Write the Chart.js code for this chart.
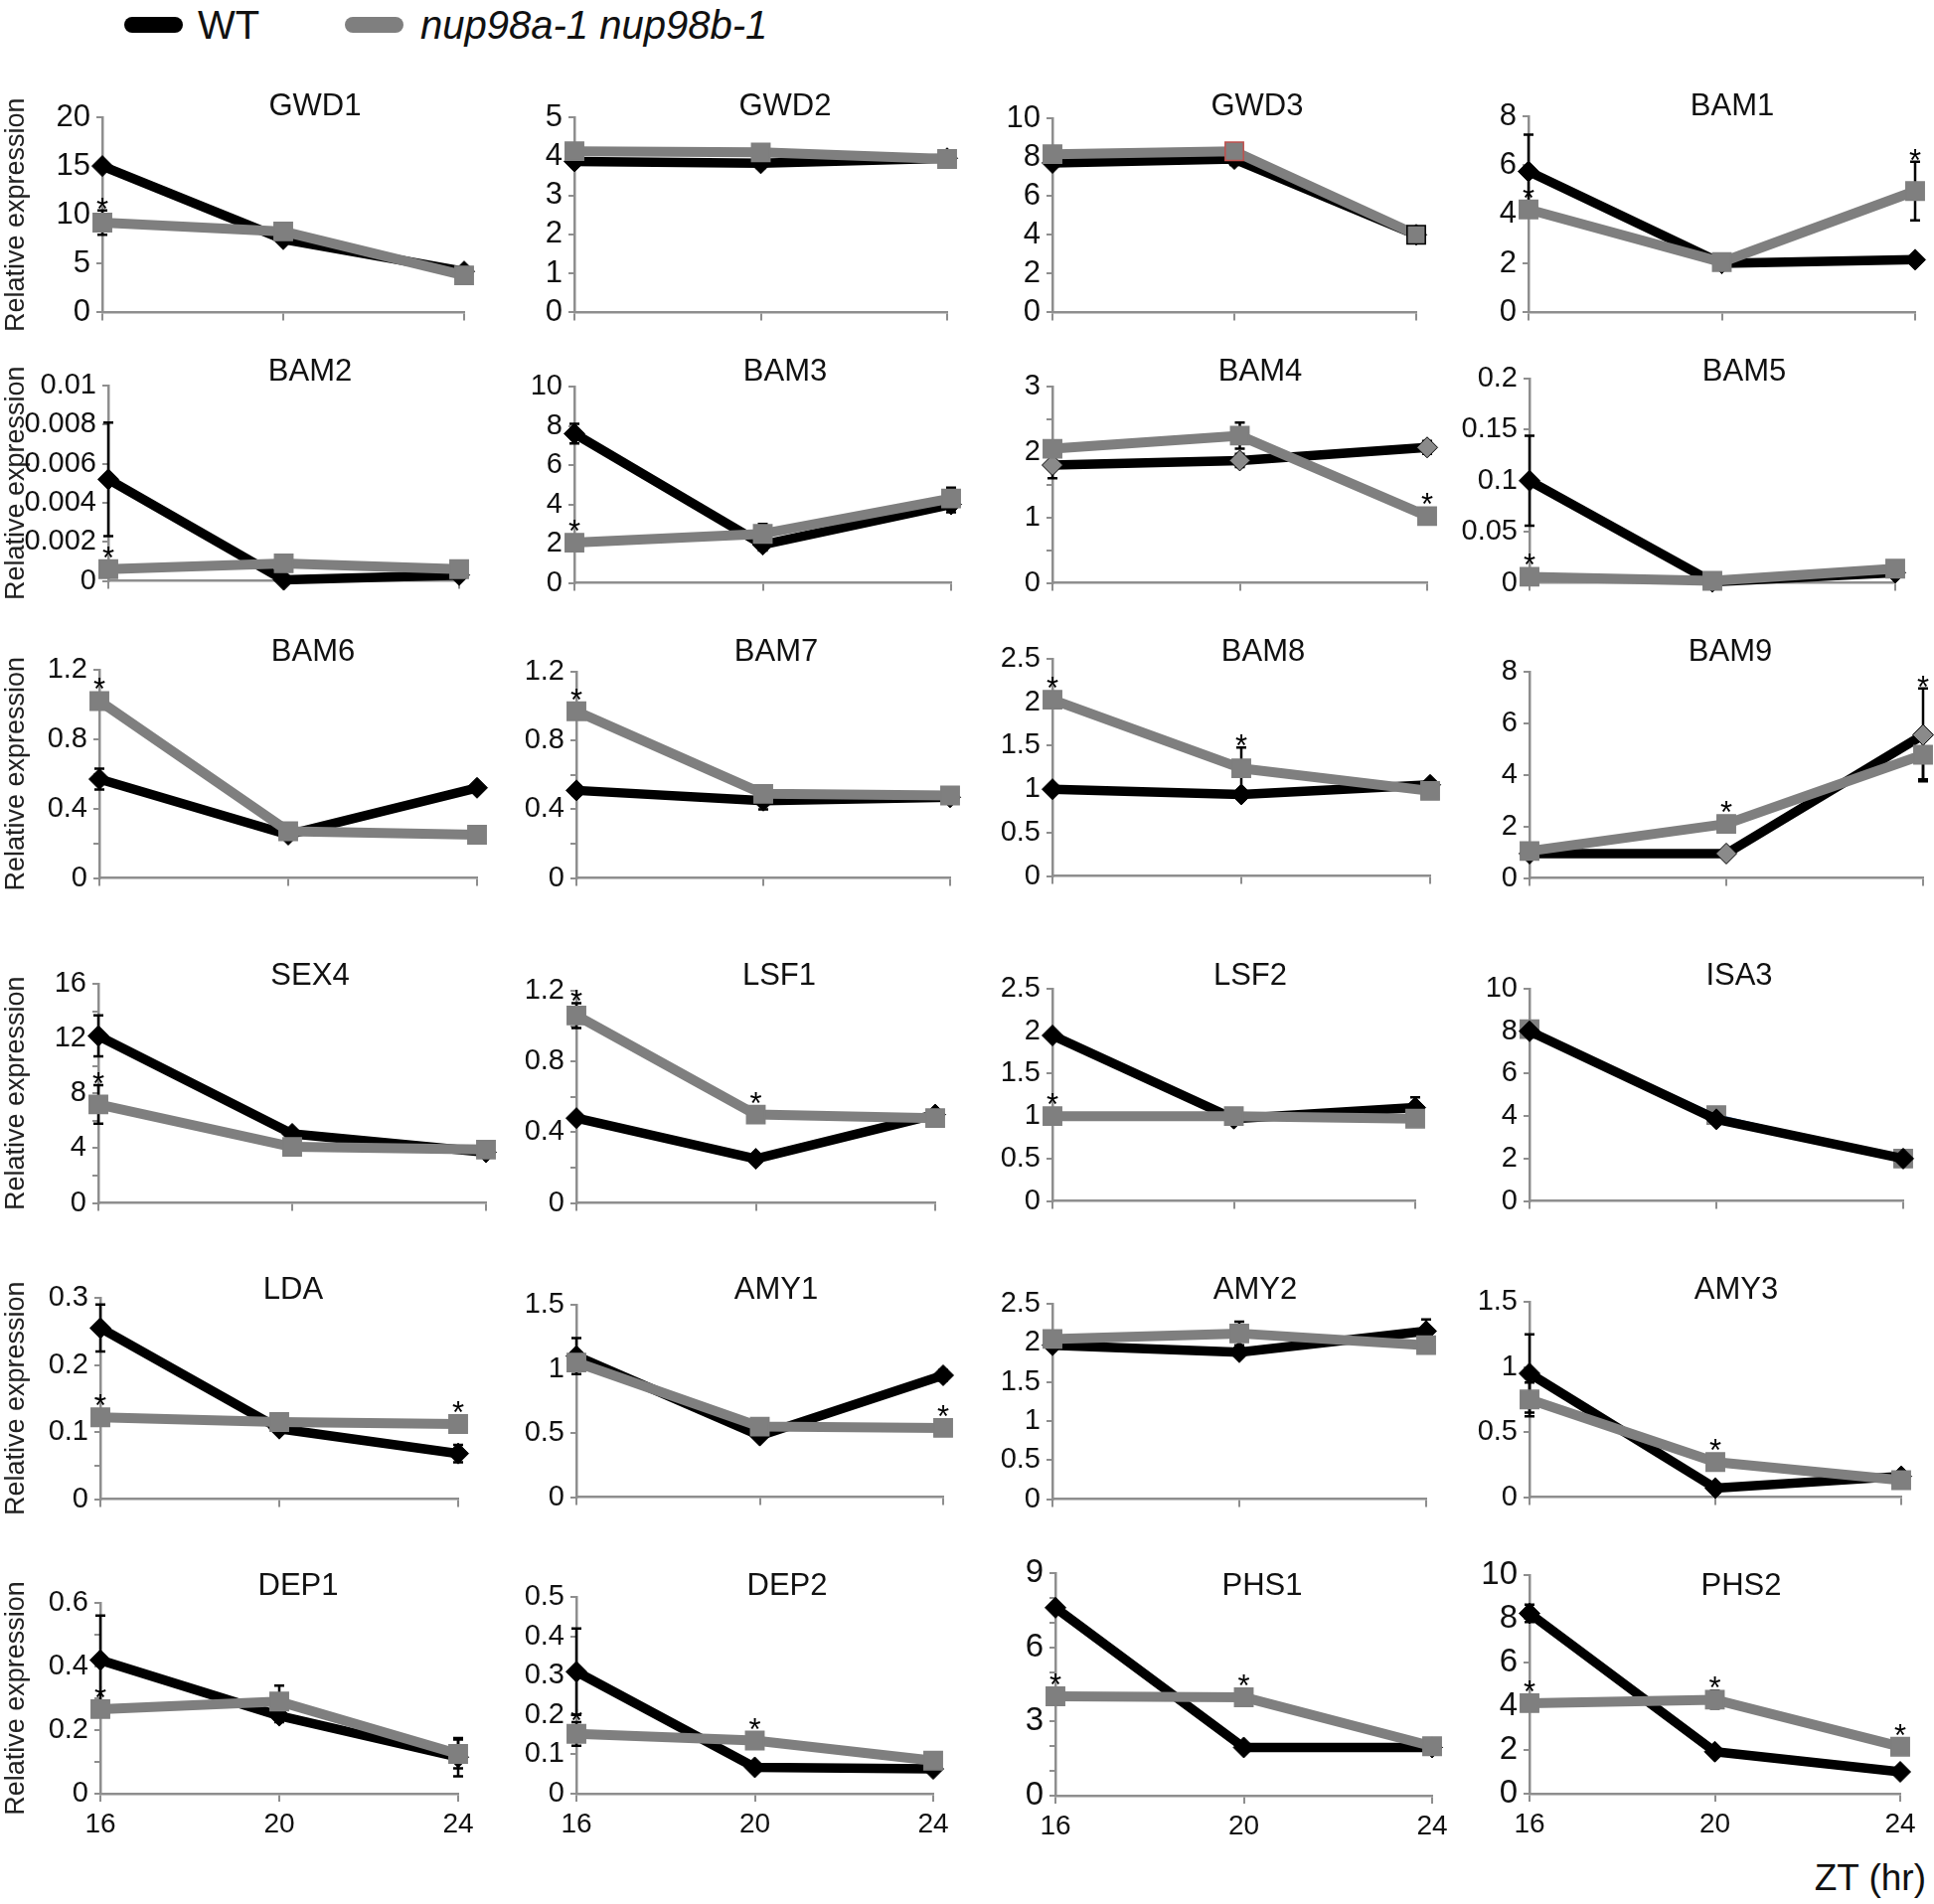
<!DOCTYPE html>
<html>
<head>
<meta charset="utf-8">
<script src="https://cdn.jsdelivr.net/npm/chart.js@4.4.1/dist/chart.umd.min.js"></script>
<style>
  html, body { margin: 0; padding: 0; background: #fff; }
  body { width: 1946px; height: 1916px; position: relative; overflow: hidden; font-family: 'Liberation Sans', Arial, sans-serif; }
  canvas { position: absolute; }
  .bar { position: absolute; top: 17px; height: 16px; width: 59px; border-radius: 8px; }
  .txt { position: absolute; font-size: 40px; line-height: 46px; top: 2px; color: #111; white-space: nowrap; }
  #zt { position: absolute; right: 8px; top: 1868px; font-size: 37px; line-height: 44px; color: #111; }
</style>
</head>
<body>
<div class="bar" style="left:125px;background:#000"></div>
<div class="txt" style="left:199px">WT</div>
<div class="bar" style="left:347px;background:#7f7f7f"></div>
<div class="txt" style="left:423px;font-style:italic">nup98a-1 nup98b-1</div>
<div id="zt">ZT (hr)</div>

<script>
// 유전자 이름 (패널 순서: 왼쪽→오른쪽, 위→아래)
var genes = ['GWD1','GWD2','GWD3','BAM1','BAM2','BAM3','BAM4','BAM5','BAM6','BAM7','BAM8','BAM9',
             'SEX4','LSF1','LSF2','ISA3','LDA','AMY1','AMY2','AMY3','DEP1','DEP2','PHS1','PHS2'];
var zt = [16, 20, 24];
var xTickLabels = ['16', '20', '24'];

// WT 평균 / 오차
var wtMean = [[15.0,7.5,4.2],[3.87,3.82,3.95],[7.7,7.9,4.0],[5.75,2.0,2.15],
  [0.0052,0.00005,0.0003],[7.6,1.95,4.0],[1.8,1.87,2.07],[0.1,0.001,0.01],
  [0.57,0.25,0.52],[0.51,0.45,0.47],[1.0,0.94,1.05],[0.95,0.95,5.55],
  [12.2,5.05,3.7],[0.48,0.25,0.5],[1.95,0.97,1.1],[8.0,3.85,2.0],
  [0.255,0.105,0.068],[1.1,0.48,0.95],[1.97,1.88,2.15],[0.95,0.07,0.16],
  [0.42,0.245,0.115],[0.31,0.067,0.063],[7.6,1.95,1.95],[8.25,1.92,1.0]];
var wtErr = [[0.3,0.3,0.5],[0.08,0.12,0.08],[0.2,0.3,0.3],[1.5,0.1,0.1],
  [0.0029,0.00005,0.0001],[0.5,0.3,0.4],[0.2,0.1,0.1],[0.044,0.001,0.002],
  [0.06,0.02,0.02],[0.03,0.05,0.02],[0.03,0.03,0.05],[0.05,0.05,1.8],
  [1.5,0.3,0.2],[0.02,0.02,0.03],[0.03,0.03,0.12],[0.1,0.1,0.05],
  [0.035,0.005,0.013],[0.14,0.02,0.04],[0.03,0.05,0.15],[0.3,0.02,0.03],
  [0.14,0.02,0.06],[0.11,0.01,0.01],[0.1,0.1,0.1],[0.4,0.1,0.05]];

// nup98a-1 nup98b-1 평균 / 오차
var mutMean = [[9.2,8.3,3.8],[4.13,4.1,3.93],[8.15,8.3,4.0],[4.2,2.05,4.95],
  [0.0006,0.0009,0.0006],[2.05,2.5,4.3],[2.05,2.25,1.02],[0.006,0.002,0.014],
  [1.02,0.27,0.25],[0.97,0.49,0.48],[2.03,1.24,0.98],[1.05,2.1,4.78],
  [7.2,4.1,3.9],[1.06,0.5,0.48],[1.0,1.0,0.97],[8.1,4.05,2.0],
  [0.122,0.115,0.112],[1.05,0.55,0.54],[2.05,2.12,1.97],[0.75,0.27,0.13],
  [0.266,0.29,0.125],[0.152,0.135,0.084],[4.02,3.98,2.0],[4.14,4.3,2.15]];
var mutErr = [[1.25,0.3,0.3],[0.05,0.05,0.05],[0.1,0.1,0.1],[0.2,0.1,1.2],
  [0.0001,0.0001,0.0001],[0.1,0.5,0.55],[0.05,0.2,0.05],[0.002,0.001,0.002],
  [0.02,0.02,0.02],[0.02,0.02,0.02],[0.03,0.24,0.03],[0.1,0.15,0.95],
  [1.4,0.2,0.2],[0.07,0.02,0.02],[0.02,0.02,0.02],[0.05,0.05,0.05],
  [0.005,0.005,0.005],[0.03,0.02,0.02],[0.03,0.15,0.03],[0.13,0.03,0.02],
  [0.02,0.05,0.045],[0.03,0.01,0.01],[0.05,0.05,0.05],[0.05,0.4,0.05]];

// 별표 (1 = 변이체 위, 2 = WT 위)
var stars = [[1,0,0],[0,0,0],[0,0,0],[1,0,1],[1,0,0],[1,0,0],[0,0,1],[1,0,0],
  [1,0,0],[1,0,0],[1,1,0],[0,1,2],[1,0,0],[1,1,0],[1,0,0],[0,0,0],
  [1,0,1],[0,0,1],[0,0,0],[0,1,0],[1,0,0],[1,1,0],[1,1,0],[1,1,1]];

// y축 최대값, 라벨 간격, 눈금 간격
var yMax = [20,5,10,8, 0.01,10,3,0.2, 1.2,1.2,2.5,8, 16,1.2,2.5,10, 0.3,1.5,2.5,1.5, 0.6,0.5,9,10];
var yLabelStep = [5,1,2,2, 0.002,2,1,0.05, 0.4,0.4,0.5,2, 4,0.4,0.5,2, 0.1,0.5,0.5,0.5, 0.2,0.1,3,2];
var yTickStep = [5,1,2,2, 0.002,2,0.5,0.05, 0.2,0.2,0.5,2, 2,0.2,0.5,2, 0.05,0.5,0.5,0.5, 0.1,0.1,1,2];

// 패널 위치 [왼쪽, 오른쪽, 위, 아래] (페이지 픽셀)
var boxes = [[103,467,118,317],[578,953,118,317],[1059,1425,119,317],[1538,1927,117,317],
  [109,462,388,586],[578,957,389,588],[1059,1436,389,588],[1539,1907,381,588],
  [100,480,674,885],[580,956,676,885],[1059,1439,663,883],[1539,1935,676,885],
  [99,489,990,1212],[580,941,997,1212],[1059,1424,995,1210],[1539,1915,995,1210],
  [101,461,1306,1510],[580,949,1313,1508],[1059,1435,1312,1510],[1539,1913,1310,1508],
  [101,461,1613,1805],[580,939,1607,1805],[1062,1441,1583,1807],[1539,1912,1585,1805]];
var titleX = [317,790,1265,1743, 312,790,1268,1755, 315,781,1271,1741,
  312,784,1258,1750, 295,781,1263,1747, 300,792,1270,1752];
var rowTitleY = [107, 374, 656, 982, 1298, 1596];

var AX = '#8e8e8e';
var GRAY = '#7f7f7f';
var FONT = "'Liberation Sans', Arial, sans-serif";
var NARROW = "'Liberation Sans Narrow', 'Liberation Sans', Arial, sans-serif";
var grayDiamonds = { BAM4: [1,1,1], BAM9: [0,1,1] };

function f_fmt(v){ return String(parseFloat(v.toFixed(6))); }

// 오차막대, 별표, 패널 제목
var extras = {
  id: 'extras',
  beforeDatasetsDraw: function(chart, args, o){
    var i = o.idx, ctx = chart.ctx, xs = chart.scales.x, ys = chart.scales.y;
    ctx.save();
    ctx.strokeStyle = '#000';
    ctx.lineWidth = 2.5;
    [[wtMean, wtErr], [mutMean, mutErr]].forEach(function(s){
      for (var j = 0; j < zt.length; j++) {
        var px = xs.getPixelForValue(zt[j]);
        var y1 = ys.getPixelForValue(s[0][i][j] + s[1][i][j]);
        var y2 = ys.getPixelForValue(Math.max(0, s[0][i][j] - s[1][i][j]));
        ctx.beginPath();
        ctx.moveTo(px, y1); ctx.lineTo(px, y2);
        ctx.moveTo(px - 5, y1); ctx.lineTo(px + 5, y1);
        ctx.moveTo(px - 5, y2); ctx.lineTo(px + 5, y2);
        ctx.stroke();
      }
    });
    ctx.restore();
  },
  afterDatasetsDraw: function(chart, args, o){
    var i = o.idx, ctx = chart.ctx, xs = chart.scales.x, ys = chart.scales.y;
    ctx.save();
    ctx.fillStyle = '#000';
    ctx.font = '31px ' + FONT;
    ctx.textAlign = 'center';
    ctx.textBaseline = 'alphabetic';
    for (var j = 0; j < zt.length; j++) {
      if (!stars[i][j]) continue;
      var m = stars[i][j] == 2 ? wtMean : mutMean;
      var e = stars[i][j] == 2 ? wtErr : mutErr;
      var px = xs.getPixelForValue(zt[j]);
      var cy = Math.min(ys.getPixelForValue(m[i][j] + e[i][j]), ys.getPixelForValue(m[i][j]) - 10) - 9;
      ctx.fillText('*', px, cy + 18);
    }
    ctx.fillStyle = '#111';
    ctx.font = '31px ' + FONT;
    ctx.textBaseline = 'middle';
    ctx.fillText(genes[i], titleX[i] - o.cx, rowTitleY[Math.floor(i / 4)] - o.cy);
    ctx.restore();
  }
};

function f_panel(i){
  var row = Math.floor(i / 4), col = i % 4;
  var b = boxes[i];
  var padL = col == 0 ? b[0] : 110;
  var padT = 50, padR = 30, padB = row == 5 ? 62 : 22;
  var cx = b[0] - padL, cy = b[2] - padT;
  var w = padL + (b[1] - b[0]) + padR, h = padT + (b[3] - b[2]) + padB;

  var cv = document.createElement('canvas');
  cv.width = w; cv.height = h;
  cv.style.left = cx + 'px'; cv.style.top = cy + 'px';
  cv.style.width = w + 'px'; cv.style.height = h + 'px';
  document.body.appendChild(cv);

  var g = genes[i];
  var isISA3 = g == 'ISA3';
  var wtFill = zt.map(function(x, j){ return grayDiamonds[g] && grayDiamonds[g][j] ? '#8a8a8a' : '#000'; });
  var mutBorder = g == 'GWD3' ? [GRAY, '#c0504d', '#000'] : GRAY;
  var tickFont = row == 0 ? { family: FONT, size: 31 }
               : (g == 'PHS1' || g == 'PHS2') ? { family: FONT, size: 33 }
               : { family: NARROW, size: 29 };

  new Chart(cv, {
    type: 'line',
    data: {
      datasets: [
        { label: 'WT',
          data: zt.map(function(x, j){ return { x: x, y: wtMean[i][j] }; }),
          borderColor: '#000', borderWidth: 9.5, borderJoinStyle: 'round', borderCapStyle: 'round',
          pointStyle: 'rectRot', pointRadius: 10.5, pointBackgroundColor: wtFill,
          pointBorderColor: '#000', pointBorderWidth: 1, tension: 0, clip: false,
          order: isISA3 ? 1 : 2 },
        { label: 'nup98a-1 nup98b-1',
          data: zt.map(function(x, j){ return { x: x, y: mutMean[i][j] }; }),
          borderColor: isISA3 ? '#4a7ebb' : GRAY, borderWidth: isISA3 ? 2 : 10,
          borderJoinStyle: 'round', borderCapStyle: 'round',
          pointStyle: 'rect', pointRadius: 13, pointBackgroundColor: GRAY,
          pointBorderColor: mutBorder, pointBorderWidth: 1.5, tension: 0, clip: false,
          order: isISA3 ? 2 : 1 }
      ]
    },
    options: {
      responsive: false, animation: false, events: [],
      layout: { padding: { top: padT, right: padR, left: 0, bottom: 0 } },
      scales: {
        x: {
          type: 'linear', min: 16, max: 24,
          afterFit: function(s){ s.height = padB; },
          ticks: { stepSize: 4, display: row == 5, padding: 6, color: '#111',
                   font: { family: FONT, size: 28 },
                   callback: function(v){ return xTickLabels[zt.indexOf(v)]; } },
          grid: { display: true, drawOnChartArea: false, drawTicks: true, tickLength: 8,
                  color: AX, lineWidth: 2, tickColor: AX, tickWidth: 2 },
          border: { display: true, color: AX, width: 2.5 }
        },
        y: {
          type: 'linear', min: 0, max: yMax[i],
          afterFit: function(s){ s.width = padL; },
          ticks: { stepSize: yTickStep[i], autoSkip: false, padding: 6, color: '#111', font: tickFont,
                   callback: function(v){
                     var r = v / yLabelStep[i];
                     return Math.abs(r - Math.round(r)) < 1e-6 ? f_fmt(v) : '';
                   } },
          grid: { display: true, drawOnChartArea: false, drawTicks: true, tickLength: 6,
                  color: AX, lineWidth: 2, tickColor: AX, tickWidth: 2 },
          border: { display: true, color: AX, width: 2.5 },
          title: { display: col == 0, text: 'Relative expression', color: '#222', padding: 0,
                   font: { family: FONT, size: 27 } }
        }
      },
      plugins: {
        legend: { display: false },
        tooltip: { enabled: false },
        extras: { idx: i, cx: cx, cy: cy }
      }
    },
    plugins: [extras]
  });
}

for (var k = 0; k < genes.length; k++) f_panel(k);
</script>
</body>
</html>
